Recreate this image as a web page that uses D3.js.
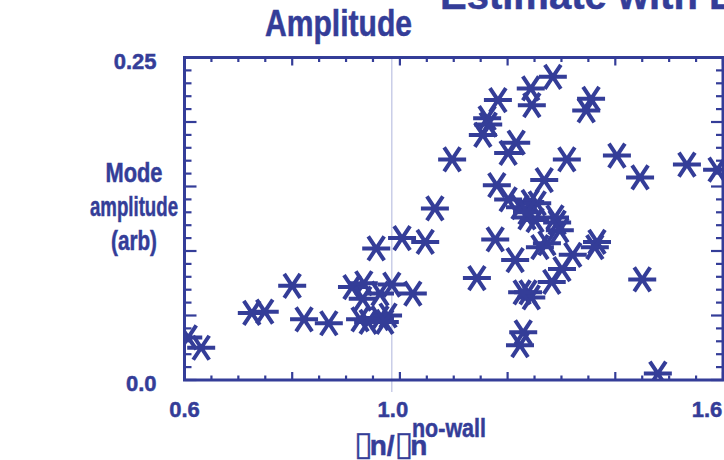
<!DOCTYPE html>
<html>
<head>
<meta charset="utf-8">
<script src="https://cdn.jsdelivr.net/npm/d3@7/dist/d3.min.js"></script>
<style>
  html, body { margin: 0; padding: 0; background: #ffffff; }
  svg { display: block; }
  text { font-family: "Liberation Sans", Arial, Helvetica, sans-serif; font-weight: bold; fill: #343d98; stroke: #343d98; stroke-width: 0.5px; }
</style>
</head>
<body>
<svg id="chart" width="724" height="460"></svg>
<script>
// Frequency ratio (w_n / w_n no-wall) and mode amplitude for each measured mode
const freqRatio = [
  0.607, 0.631, 0.725, 0.749, 0.800, 0.822, 0.868, 0.911, 0.933, 0.931,
  0.963, 0.985, 0.956, 0.926, 0.941, 0.963, 0.978, 0.972, 1.004, 1.047,
  1.024, 1.065, 1.097, 1.284, 1.243, 1.245, 1.182, 1.162, 1.164, 1.154,
  1.355, 1.346, 1.216, 1.201, 1.310, 1.403, 1.446, 1.533, 1.589, 1.180,
  1.201, 1.268, 1.223, 1.242, 1.255, 1.236, 1.288, 1.251, 1.292, 1.297,
  1.177, 1.366, 1.362, 1.273, 1.260, 1.214, 1.321, 1.301, 1.282, 1.143,
  1.238, 1.244, 1.227, 1.450, 1.229, 1.223, 1.479, 1.236
];
const modeAmplitude = [
  0.033, 0.025, 0.052, 0.053, 0.073, 0.047, 0.044, 0.072, 0.075, 0.063,
  0.067, 0.074, 0.102, 0.047, 0.045, 0.048, 0.050, 0.045, 0.110, 0.107,
  0.067, 0.133, 0.171, 0.235, 0.226, 0.213, 0.217, 0.203, 0.198, 0.190,
  0.218, 0.209, 0.184, 0.176, 0.171, 0.174, 0.157, 0.167, 0.163, 0.151,
  0.140, 0.155, 0.134, 0.138, 0.137, 0.126, 0.126, 0.124, 0.122, 0.116,
  0.109, 0.107, 0.103, 0.106, 0.103, 0.093, 0.097, 0.086, 0.076, 0.079,
  0.068, 0.064, 0.068, 0.078, 0.037, 0.027, 0.005, 0.130
];
const xTickValues = [0.6, 1.0, 1.6];
const xTickLabels = ["0.6", "1.0", "1.6"];
const yTickValues = [0.0, 0.25];
const yTickLabels = ["0.0", "0.25"];
const refRatio = 0.985;

const BLUE = "#343d98";
const svg = d3.select("#chart");

const x = d3.scaleLinear().domain([0.6, 1.6]).range([184.5, 723]);
const y = d3.scaleLinear().domain([0, 0.25]).range([380, 57.5]);
const [x0, x1] = x.range();
const [yb, yt] = y.range();

// Reference line at the no-wall frequency
svg.append("line")
  .attr("x1", x(refRatio)).attr("x2", x(refRatio))
  .attr("y1", yt).attr("y2", yb + 12)
  .attr("stroke", "#bcc1e2").attr("stroke-width", 1.2);

// Inward tick marks on all four sides
const xMinor = d3.range(0.6, 1.6001, 0.05).map(v => +v.toFixed(2));
const yMinor = d3.range(0, 0.2501, 0.01).map(v => +v.toFixed(2));
const isXMajor = v => Math.abs(Math.round((v - 0.6) / 0.2) * 0.2 - (v - 0.6)) < 1e-6;
const isYMajor = v => Math.abs(Math.round(v / 0.05) * 0.05 - v) < 1e-6;

const ticks = svg.append("g").attr("stroke", BLUE).attr("stroke-width", 2.2);
xMinor.forEach(v => {
  const len = isXMajor(v) ? 8 : 4.5;
  ticks.append("line").attr("x1", x(v)).attr("x2", x(v)).attr("y1", yb).attr("y2", yb - len);
  ticks.append("line").attr("x1", x(v)).attr("x2", x(v)).attr("y1", yt).attr("y2", yt + len);
});
yMinor.forEach(v => {
  const len = isYMajor(v) ? 12 : 7;
  ticks.append("line").attr("x1", x0).attr("x2", x0 + len).attr("y1", y(v)).attr("y2", y(v));
  ticks.append("line").attr("x1", x1).attr("x2", x1 - len).attr("y1", y(v)).attr("y2", y(v));
});

// Data markers (asterisks), clipped to the plot frame
svg.append("clipPath").attr("id", "plotClip")
  .append("rect").attr("x", x0).attr("y", yt).attr("width", x1 - x0).attr("height", yb - yt);

const star = "M-14,0L14,0M-8,-12L8,12M-8,12L8,-12";
const points = freqRatio.map((f, i) => ({ f, a: modeAmplitude[i] }));
svg.append("g").attr("clip-path", "url(#plotClip)")
  .selectAll("path").data(points).join("path")
  .attr("d", star)
  .attr("transform", d => `translate(${x(d.f)},${y(d.a)})`)
  .attr("fill", "none").attr("stroke", BLUE).attr("stroke-width", 4);

// Plot frame
svg.append("rect")
  .attr("x", x0).attr("y", yt).attr("width", x1 - x0).attr("height", yb - yt)
  .attr("fill", "none").attr("stroke", BLUE).attr("stroke-width", 3);

// Tick labels
const xLabelShift = { "0.6": 0, "1.0": -7, "1.6": -16 };
svg.append("g").selectAll("text").data(xTickValues).join("text")
  .attr("x", (v, i) => x(v) + xLabelShift[xTickLabels[i]])
  .attr("y", 417)
  .attr("text-anchor", "middle")
  .attr("font-size", 22)
  .text((v, i) => xTickLabels[i]);

svg.append("g").selectAll("text").data(yTickValues).join("text")
  .attr("x", x0 - 28)
  .attr("y", v => y(v) + 11)
  .attr("text-anchor", "end")
  .attr("font-size", 22)
  .text((v, i) => yTickLabels[i]);

// Axis titles (condensed bold)
const yTitleLines = ["Mode", "amplitude", "(arb)"];
const yTitleWidths = [57, 88, 46];
svg.append("g").selectAll("text").data(yTitleLines).join("text")
  .attr("x", (d, i) => 134 - yTitleWidths[i] / 2)
  .attr("y", (d, i) => 182 + i * 34)
  .attr("font-size", 27)
  .attr("textLength", (d, i) => yTitleWidths[i])
  .attr("lengthAdjust", "spacingAndGlyphs")
  .text(d => d);

const xTitle = svg.append("text").attr("x", 354).attr("y", 455).attr("font-size", 28);
xTitle.append("tspan").style("font-family", "DejaVu Sans").style("font-weight", "normal")
  .style("stroke-width", "0.3px").attr("font-size", 34).text("\u25AF");
xTitle.append("tspan").attr("dx", -3).text("n/");
xTitle.append("tspan").style("font-family", "DejaVu Sans").style("font-weight", "normal")
  .style("stroke-width", "0.3px").attr("font-size", 34).text("\u25AF");
xTitle.append("tspan").attr("dx", -3).text("n");
svg.append("text").attr("x", 412).attr("y", 437).attr("font-size", 26)
  .attr("textLength", 74).attr("lengthAdjust", "spacingAndGlyphs")
  .text("no-wall");

// Titles
svg.append("text").attr("x", 265).attr("y", 36).attr("font-size", 36)
  .attr("textLength", 147).attr("lengthAdjust", "spacingAndGlyphs")
  .text("Amplitude");
svg.append("text").attr("x", 440).attr("y", 9).attr("font-size", 40)
  .text("Estimate with Eigenmode");
</script>
</body>
</html>
